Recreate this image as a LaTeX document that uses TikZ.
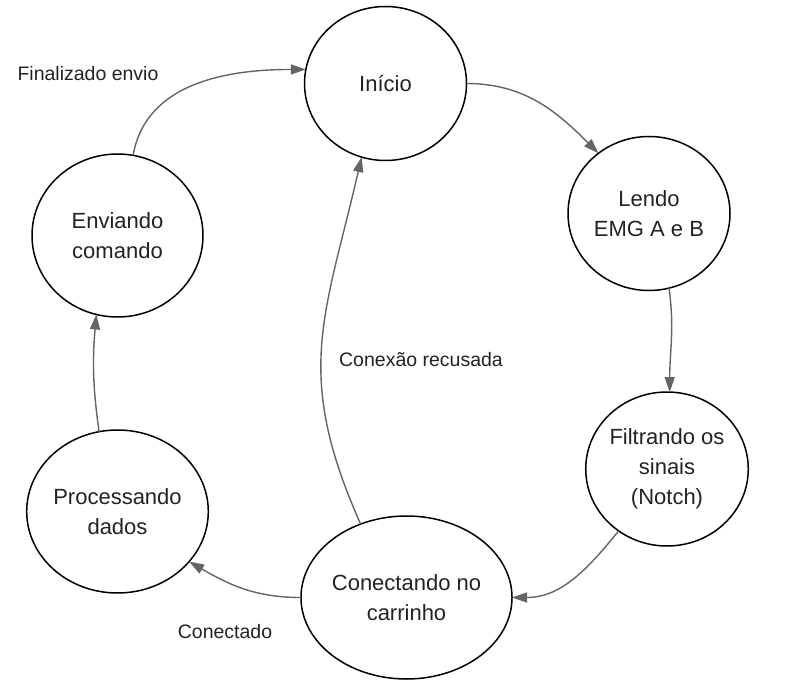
\documentclass[tikz,border=0pt]{standalone}
\usepackage{fontspec}
\setmainfont{Liberation Sans}
\usepackage{tikz}
\usetikzlibrary{arrows.meta,shapes.geometric}
\definecolor{edgegray}{HTML}{646464}
\definecolor{textgray}{HTML}{222222}

\begin{document}
\begin{tikzpicture}
    [   x = 1pt, y = 1pt
    ,   > = {Triangle[length=15pt,width=10pt]}
    ,   state/.style =
        {   draw
        ,   ellipse
        ,   line width = 1.5pt
        ,   inner sep = 0mm
        ,   outer sep = 0mm
        ,   minimum width = 162pt
        ,   minimum height = 154pt
        ,   align = center
        ,   text = textgray
        ,   font = \fontsize{22}{30}\selectfont
        }
    ,   bigstate/.style = {state, minimum width = 171pt, minimum height = 163pt}
    ,   edge/.style = {->, draw = edgegray, line width = 1.4pt}
    ,   edgelabel/.style = {text = textgray, font = \fontsize{19.5}{23}\selectfont}
    ]
    \useasboundingbox (0,0) rectangle (792,697);

    \node[state]    (ini)      at (385.5,613.5) {Início};
    \node[state]    (lendo)    at (649,483.5)   {Lendo\\EMG A e B};
    \node[state]    (filtro)   at (667,228)     {Filtrando os\\sinais\\(Notch)};
    \node[bigstate] (conecta)  at (406.5,99.5)  {Conectando no\\carrinho};
    \node[bigstate] (processa) at (117.5,185.5) {Processando\\dados};
    \node[bigstate] (envia)    at (117.5,461.5) {Enviando\\comando};

    \node[edgelabel] (lfim)   at (88,623)  {Finalizado envio};
    \node[edgelabel] (lrecus) at (421,337) {Conexão recusada};
    \node[edgelabel] (lconec) at (225,65)  {Conectado};

    \draw[edge] (envia.79)     to[out=80,in=180]   (ini.170);
    \draw[edge] (ini.0)        to[out=0,in=135]    (lendo.130);
    \draw[edge] (lendo.-75)    to[out=-82,in=90]   (filtro.88);
    \draw[edge] (filtro.-128)  to[out=-129,in=0]   (conecta.east);
    \draw[edge] (conecta.west) to[out=180,in=-30]  (processa.-35);
    \draw[edge] (processa.103) to[out=98,in=-95]   (envia.-105);
    \draw[edge] (conecta.122)  to[out=114,in=-103,looseness=1.15] (ini.-108);

\end{tikzpicture}
\end{document}
